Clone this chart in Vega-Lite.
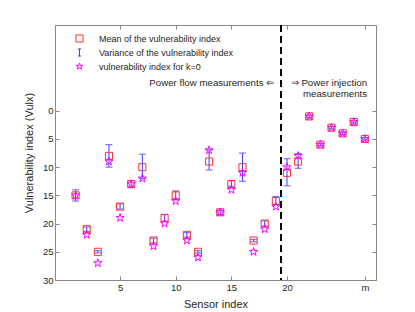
{
  "$schema": "https://vega.github.io/schema/vega-lite/v6.json",
  "width": 321,
  "height": 255,
  "autosize": {"type": "none"},
  "padding": {"left": 55, "top": 25, "right": 39, "bottom": 32},
  "background": "white",
  "config": {
    "view": {"stroke": "#888888", "strokeWidth": 1},
    "font": "Liberation Sans",
    "axis": {
      "grid": false,
      "domainColor": "#888888",
      "tickColor": "#888888",
      "labelColor": "#262626",
      "titleColor": "#262626",
      "labelFont": "Liberation Sans",
      "titleFont": "Liberation Sans",
      "labelFontSize": 9.5,
      "titleFontSize": 11,
      "titleFontWeight": "normal",
      "tickSize": -4
    },
    "legend": {
      "title": null,
      "labelFontSize": 9,
      "labelColor": "#262626",
      "labelFont": "Liberation Sans",
      "symbolStrokeWidth": 1,
      "labelOffset": 15,
      "rowPadding": 1
    }
  },
  "data": {
    "values": [
      {"x": 1, "mean": 15, "lo": 14, "hi": 16, "k0": 15},
      {"x": 2, "mean": 21, "lo": 20.6, "hi": 21.4, "k0": 22},
      {"x": 3, "mean": 25, "lo": 24.8, "hi": 25.2, "k0": 27},
      {"x": 4, "mean": 8, "lo": 6, "hi": 10, "k0": 9},
      {"x": 5, "mean": 17, "lo": 16.5, "hi": 17.4, "k0": 19},
      {"x": 6, "mean": 13, "lo": 12.4, "hi": 13.6, "k0": 13},
      {"x": 7, "mean": 10, "lo": 7.7, "hi": 12, "k0": 12},
      {"x": 8, "mean": 23, "lo": 22.6, "hi": 23.4, "k0": 24},
      {"x": 9, "mean": 19, "lo": 18.4, "hi": 19.6, "k0": 20},
      {"x": 10, "mean": 15, "lo": 14.2, "hi": 15.8, "k0": 16},
      {"x": 11, "mean": 22, "lo": 21.6, "hi": 22.4, "k0": 23},
      {"x": 12, "mean": 25, "lo": 24.8, "hi": 25.2, "k0": 26},
      {"x": 13, "mean": 9, "lo": 6.9, "hi": 10.5, "k0": 7},
      {"x": 14, "mean": 18, "lo": 17.6, "hi": 18.4, "k0": 18},
      {"x": 15, "mean": 13, "lo": 12.4, "hi": 13.4, "k0": 14},
      {"x": 16, "mean": 10, "lo": 7.5, "hi": 12.5, "k0": 11},
      {"x": 17, "mean": 23, "lo": 22.8, "hi": 23.2, "k0": 25},
      {"x": 18, "mean": 20, "lo": 19.5, "hi": 20.4, "k0": 21},
      {"x": 19, "mean": 16, "lo": 15.2, "hi": 16.6, "k0": 17},
      {"x": 20, "mean": 11, "lo": 8.5, "hi": 13.3, "k0": 10},
      {"x": 21, "mean": 9, "lo": 7.6, "hi": 10.2, "k0": 8},
      {"x": 22, "mean": 1, "lo": 0.8, "hi": 1.2, "k0": 1},
      {"x": 23, "mean": 6, "lo": 5.8, "hi": 6.2, "k0": 6},
      {"x": 24, "mean": 3, "lo": 2.8, "hi": 3.2, "k0": 3},
      {"x": 25, "mean": 4, "lo": 3.8, "hi": 4.2, "k0": 4},
      {"x": 26, "mean": 2, "lo": 1.8, "hi": 2.2, "k0": 2},
      {"x": 27, "mean": 5, "lo": 4.8, "hi": 5.2, "k0": 5}
    ]
  },
  "resolve": {"axis": {"x": "independent", "y": "independent"}},
  "layer": [
    {
      "mark": {"type": "rule", "color": "black", "strokeWidth": 1.1, "strokeDash": [7, 4]},
      "encoding": {
        "x": {"datum": 19.5, "type": "quantitative", "scale": {"domain": [-0.85, 28], "nice": false, "zero": false},
          "axis": {"orient": "bottom", "title": "Sensor index", "values": [5, 10, 15, 20, 27], "labelExpr": "datum.value == 27 ? 'm' : datum.label", "labelPadding": 6, "titleY": 24, "titleBaseline": "middle"}}
      }
    },
    {
      "mark": {"type": "rule", "color": "#3b3bff", "strokeWidth": 1},
      "encoding": {
        "x": {"field": "x", "type": "quantitative", "axis": {"orient": "top", "values": [5, 10, 15, 20, 27], "labels": false, "domain": false, "title": null}},
        "y": {"field": "lo", "type": "quantitative", "title": "Vulnerability index (Vulx)",
          "scale": {"domain": [-15.2, 30], "reverse": true, "nice": false, "zero": false},
          "axis": {"orient": "left", "values": [0, 5, 10, 15, 20, 25, 30], "labelPadding": 6, "titleX": -25.5, "titleY": 127.5, "titleBaseline": "middle"}},
        "y2": {"field": "hi"}
      }
    },
    {
      "mark": {"type": "tick", "orient": "horizontal", "color": "#5a5aff", "size": 7, "thickness": 1.2, "opacity": 0.8},
      "encoding": {
        "x": {"field": "x", "type": "quantitative", "axis": null},
        "y": {"field": "lo", "type": "quantitative", "axis": {"orient": "right", "values": [0, 5, 10, 15, 20, 25, 30], "labels": false, "domain": false, "title": null}}
      }
    },
    {
      "mark": {"type": "tick", "orient": "horizontal", "color": "#5a5aff", "size": 7, "thickness": 1.2, "opacity": 0.8},
      "encoding": {
        "x": {"field": "x", "type": "quantitative", "axis": null},
        "y": {"field": "hi", "type": "quantitative", "axis": null}
      }
    },
    {
      "mark": {"type": "point", "filled": false, "strokeWidth": 1, "size": 50, "opacity": 1},
      "encoding": {
        "x": {"field": "x", "type": "quantitative", "axis": null},
        "y": {"field": "mean", "type": "quantitative", "axis": null},
        "shape": {"datum": "Mean of the vulnerability index",
          "scale": {"domain": ["Mean of the vulnerability index", "Variance of the vulnerability index", "vulnerability index for k=0"],
            "range": ["square", "M-0.45,-1L0.45,-1M0,-1L0,1M-0.45,1L0.45,1", "M0,-1L0.225,-0.309L0.951,-0.309L0.363,0.118L0.588,0.809L0,0.382L-0.588,0.809L-0.363,0.118L-0.951,-0.309L-0.225,-0.309Z"]},
          "legend": {"orient": "none", "legendX": 20, "legendY": 9, "symbolSize": 50}},
        "color": {"datum": "Mean of the vulnerability index",
          "scale": {"domain": ["Mean of the vulnerability index", "Variance of the vulnerability index", "vulnerability index for k=0"],
            "range": ["#ff3030", "#3b3bff", "#ff00ff"]},
          "legend": {"orient": "none", "legendX": 20, "legendY": 9, "symbolSize": 50}}
      }
    },
    {
      "mark": {"type": "point", "filled": false, "strokeWidth": 1, "size": 75, "opacity": 1},
      "encoding": {
        "x": {"field": "x", "type": "quantitative", "axis": null},
        "y": {"field": "k0", "type": "quantitative", "axis": null},
        "shape": {"datum": "vulnerability index for k=0"},
        "color": {"datum": "vulnerability index for k=0"}
      }
    },
    {
      "data": {
        "values": [
          {"tx": 18.85, "ty": -5, "label": "Power flow measurements ⇐"},
          {"tx": 27.2, "ty": -5, "label": "⇒ Power injection"},
          {"tx": 27.2, "ty": -2.9, "label": "measurements"}
        ]
      },
      "mark": {"type": "text", "align": "right", "baseline": "middle", "fontSize": 9.7, "color": "#262626", "font": "Liberation Sans"},
      "encoding": {
        "x": {"field": "tx", "type": "quantitative", "axis": null},
        "y": {"field": "ty", "type": "quantitative", "axis": null},
        "text": {"field": "label"}
      }
    }
  ]
}
